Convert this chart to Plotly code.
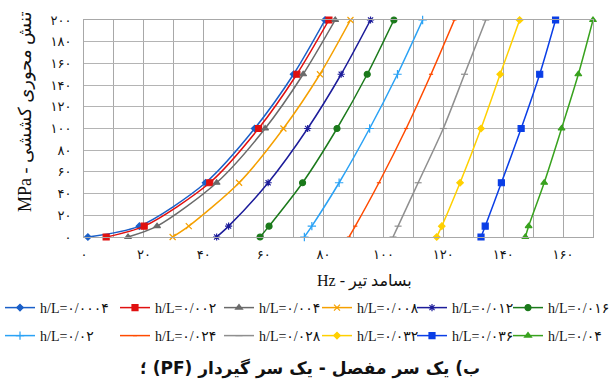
import plotly.graph_objects as go

# ---------------- data ----------------
stress = [0, 10, 50, 100, 150, 200]  # MPa

labels = ["h/L=۰/۰۰۰۴", "h/L=۰/۰۰۲", "h/L=۰/۰۰۴", "h/L=۰/۰۰۸", "h/L=۰/۰۱۲", "h/L=۰/۰۱۶",
          "h/L=۰/۰۲", "h/L=۰/۰۲۴", "h/L=۰/۰۲۸", "h/L=۰/۰۳۲", "h/L=۰/۰۳۶", "h/L=۰/۰۴"]

freq_0004 = [1.3, 18.5, 40.6, 57.0, 70.0, 80.5]
freq_002 = [7.4, 20.1, 42.0, 58.3, 71.1, 81.8]
freq_004 = [14.7, 24.4, 44.3, 60.5, 73.2, 83.9]
freq_008 = [29.6, 35.0, 51.8, 66.6, 78.8, 89.0]
freq_012 = [44.3, 48.3, 61.5, 74.7, 85.9, 95.7]
freq_016 = [58.8, 61.8, 73.0, 84.5, 94.6, 103.5]
freq_02 = [73.6, 76.1, 85.2, 95.4, 104.7, 113.1]
freq_024 = [88.5, 90.6, 98.5, 107.6, 115.9, 123.7]
freq_028 = [103.2, 104.9, 111.6, 120.0, 127.1, 134.2]
freq_032 = [117.8, 119.5, 125.6, 132.6, 139.0, 145.5]
freq_036 = [132.6, 134.0, 139.4, 146.0, 152.2, 157.5]
freq_04 = [147.4, 148.5, 153.7, 159.5, 165.1, 170.0]

x_tickvals = [0, 10, 20, 30, 40, 50, 60, 70, 80, 90, 100, 110, 120, 130, 140, 150, 160, 170]
x_ticktext = ["۰", "", "۲۰", "", "۴۰", "", "۶۰", "", "۸۰", "", "۱۰۰", "", "۱۲۰", "",
              "۱۴۰", "", "۱۶۰", ""]
y_tickvals = [0, 20, 40, 60, 80, 100, 120, 140, 160, 180, 200]
y_ticktext = ["۰", "۲۰", "۴۰", "۶۰", "۸۰", "۱۰۰", "۱۲۰", "۱۴۰", "۱۶۰", "۱۸۰", "۲۰۰"]

x_title = "بسامد تیر - Hz"
y_title = "تنش محوری کششی - MPa"
caption = "ب) یک سر مفصل - یک سر گیردار (PF) ؛"

series = [freq_0004, freq_002, freq_004, freq_008, freq_012, freq_016,
          freq_02, freq_024, freq_028, freq_032, freq_036, freq_04]

# ---------------- styles ----------------
colors = ["#1a5fc8", "#e01010", "#6a6a6a", "#f5a000", "#1c1c9a", "#1b7a1b",
          "#2aa2f5", "#ff4a00", "#8f8f8f", "#ffd000", "#0a3ee6", "#38a21e"]
symbols = ["diamond", "square", "triangle-up", "x-thin-open", "asterisk-open", "circle",
           "cross-thin-open", "line-ew-open", "line-ew-open", "diamond", "square", "triangle-up"]
msizes = [5, 6, 6, 6, 6, 6, 6, 3, 5, 5, 6, 6]

W, H = 613, 381
L, R, T, B = 84, 20, 20, 144

col_px = [0, 115, 219, 317, 412, 508]
row_px = [308, 336]

fig = go.Figure()
layout_legends = {}
for i, (xs, name) in enumerate(zip(series, labels)):
    lname = "legend" if i == 0 else f"legend{i+1}"
    fig.add_trace(go.Scatter(
        x=xs, y=stress, name=name, mode="lines+markers",
        line=dict(color=colors[i], width=1.5, shape="spline", smoothing=0.8),
        marker=dict(symbol=symbols[i], size=msizes[i], color=colors[i],
                    line=dict(color=colors[i], width=1.2)),
        cliponaxis=False, legend=lname,
    ))
    r, c = divmod(i, 6)
    layout_legends[lname] = dict(
        xref="container", yref="container",
        x=col_px[c] / W, y=1 - row_px[r] / H,
        xanchor="left", yanchor="middle",
        orientation="v", bgcolor="rgba(0,0,0,0)", borderwidth=0,
        itemwidth=30,
        font=dict(family="Liberation Serif, DejaVu Sans", size=14, color="#111"),
    )

def px2paper_x(px):
    return (px - L) / (W - L - R)

def px2paper_y(py):
    return (H - B - py) / (H - T - B)

fig.update_layout(
    width=W, height=H,
    margin=dict(l=L, r=R, t=T, b=B, pad=0, autoexpand=False),
    paper_bgcolor="white", plot_bgcolor="white",
    showlegend=True,
    xaxis=dict(range=[0, 170], tickmode="array", tickvals=x_tickvals, ticktext=x_ticktext,
               showgrid=True, gridcolor="#a8a8a8", gridwidth=1,
               zeroline=False, showline=True, linecolor="#a8a8a8", linewidth=1, mirror=True,
               ticks="", ticklabelstandoff=5,
               tickfont=dict(family="DejaVu Sans", size=13, color="#111")),
    yaxis=dict(range=[0, 200], tickmode="array", tickvals=y_tickvals, ticktext=y_ticktext,
               showgrid=True, gridcolor="#b4b4b4", gridwidth=1,
               zeroline=False, showline=True, linecolor="#a8a8a8", linewidth=1, mirror=True,
               ticks="", ticklabelstandoff=9,
               tickfont=dict(family="DejaVu Sans", size=13, color="#111")),
    annotations=[
        dict(text="\u202b" + x_title + "\u202c", xref="paper", yref="paper",
             x=px2paper_x(364), y=px2paper_y(281), showarrow=False,
             xanchor="center", yanchor="middle",
             font=dict(family="Liberation Serif, DejaVu Sans", size=16, color="#111")),
        dict(text="\u202b" + y_title + "\u202c", xref="paper", yref="paper",
             x=px2paper_x(25), y=px2paper_y(112), showarrow=False, textangle=-90,
             xanchor="center", yanchor="middle",
             font=dict(family="Liberation Serif, DejaVu Sans", size=18, color="#111")),
        dict(text="<b>\u202b" + caption + "\u202c</b>", xref="paper", yref="paper",
             x=px2paper_x(310), y=px2paper_y(368), showarrow=False,
             xanchor="center", yanchor="middle",
             font=dict(family="DejaVu Sans", size=17, color="#111")),
    ],
    **layout_legends,
)

fig.write_html("out.html")
